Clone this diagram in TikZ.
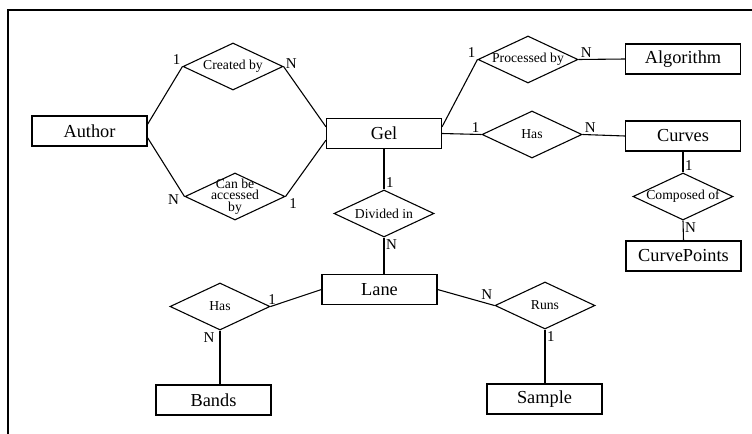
\documentclass[tikz,border=0pt]{standalone}
\usepackage{fontspec}
\setmainfont{Liberation Serif}
\usetikzlibrary{shapes.geometric}

\begin{document}
\begin{tikzpicture}[x=0.6pt,y=-0.6pt,line width=0.65pt,
    entity/.style={draw,rectangle,minimum width=69pt,minimum height=18pt,inner sep=0pt,font=\fontsize{11}{11}\selectfont},
    rel/.style={draw,diamond,minimum width=60pt,minimum height=28.2pt,inner sep=0pt},
    reltext/.style={font=\fontsize{8.2}{6.8}\selectfont,align=center,inner sep=0pt},
    card/.style={font=\fontsize{9}{9}\selectfont,inner sep=1pt}]
    \clip (0,0) rectangle (752,434);
    \draw (8,10) rectangle (770,450);
    % entities
    \node[entity] (author) at (89.5,131) {Author};
    \node[entity] (gel) at (384,133.5) {Gel};
    \node[entity] (algorithm) at (683,59) {Algorithm};
    \node[entity] (curves) at (683,136) {Curves};
    \node[entity] (curvepoints) at (683.5,256) {CurvePoints};
    \node[entity] (lane) at (379.5,289.5) {Lane};
    \node[entity] (bands) at (213.5,400) {Bands};
    \node[entity] (sample) at (544.5,399) {Sample};
    % relationships
    \node[rel,label={[reltext]center:Created by}] (created) at (233,66.5) {};
    \node[rel,label={[reltext]center:Can be\\accessed\\by}] (access) at (235,196.5) {};
    \node[rel,label={[reltext]center:Processed by}] (processed) at (528,59.5) {};
    \node[rel,label={[reltext]center:Has}] (hascurves) at (532,134.5) {};
    \node[rel,label={[reltext]center:Composed of}] (composed) at (683,196.5) {};
    \node[rel,label={[reltext]center:Divided in}] (divided) at (384,213.5) {};
    \node[rel,label={[reltext]center:Has}] (hasbands) at (220,306.5) {};
    \node[rel,label={[reltext]center:Runs}] (runs) at (545,305.5) {};
    % connectors with cardinalities
    \draw ([yshift=4pt]author.east) -- (created.west) node[card,above left] (c1) {1};
    \draw (created.east) node[card,right,yshift=2pt] (c2) {N} -- ([yshift=4pt]gel.west);
    \draw ([yshift=-4pt]author.east) -- (access.west) node[card,left,xshift=-2pt,yshift=-2pt] (c3) {N};
    \draw (access.east) node[card,below right,xshift=1pt] (c4) {1} -- ([yshift=-4pt]gel.west);
    \draw ([yshift=4pt]gel.east) -- (processed.west) node[card,above left] (c5) {1};
    \draw (processed.east) node[card,above right] (c6) {N} -- (algorithm.west);
    \draw (gel.east) -- (hascurves.west) node[card,above left] (c7) {1};
    \draw (hascurves.east) node[card,above right] (c8) {N} -- (curves.west);
    \draw (curves.south) -- (composed.north) node[card,above right] (c9) {1};
    \draw (composed.south) node[card,below right] (c10) {N} -- (curvepoints.north);
    \draw (gel.south) -- (divided.north) node[card,above right] (c11) {1};
    \draw (divided.south) node[card,below right] (c12) {N} -- (divided.south |- lane.north);
    \draw (lane.west) -- (hasbands.east) node[card,above,xshift=1pt] (c13) {1};
    \draw (hasbands.south) node[card,below left,xshift=-2pt] (c14) {N} -- (hasbands.south |- bands.north);
    \draw (lane.east) -- (runs.west) node[card,above left,yshift=2pt] (c15) {N};
    \draw (runs.south) node[card,below right] (c16) {1} -- (runs.south |- sample.north);
\end{tikzpicture}
\end{document}
